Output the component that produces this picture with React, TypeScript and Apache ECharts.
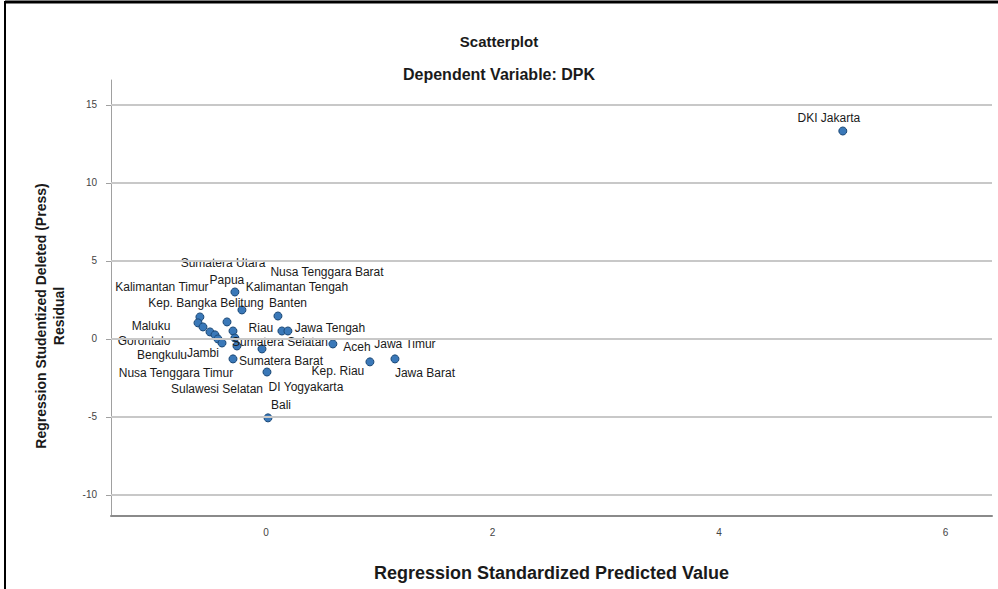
import React, { useEffect, useRef } from "react";
import * as echarts from "echarts";

const provinces = [
  "Kalimantan Timur", "Maluku", "Gorontalo", "Bengkulu", "Nusa Tenggara Timur",
  "Jambi", "Sulawesi Selatan", "Sumatera Utara", "Nusa Tenggara Barat", "Kep. Riau",
  "Kalimantan Tengah", "Kep. Bangka Belitung", "Papua", "Sumatera Selatan", "Sumatera Barat",
  "DI Yogyakarta", "Bali", "Banten", "Riau", "Jawa Tengah",
  "Aceh", "Jawa Timur", "Jawa Barat", "DKI Jakarta",
];
const predicted = [
  -0.583, -0.600, -0.556, -0.494, -0.450,
  -0.424, -0.388, -0.344, -0.291, -0.274,
  -0.256, -0.212, -0.274, -0.035, -0.291,
  0.009, 0.018, 0.106, 0.141, 0.194,
  0.591, 0.918, 1.139, 5.093,
];
const residual = [
  1.41, 1.03, 0.77, 0.45, 0.26,
  0.0, -0.26, 1.09, 0.51, 0.06,
  -0.45, 1.86, 3.01, -0.64, -1.28,
  -2.12, -5.06, 1.47, 0.51, 0.51,
  -0.32, -1.47, -1.28, 13.33,
];
// label centre offsets (px) relative to the point
const labelOffsets: [number, number][] = [
  [-38, -30], [-47, 3], [-59, 14], [-48, 23], [-39, 38],
  [-15, 14], [-5, 46], [-4, -59], [94, -59], [103, 33],
  [60, -59], [-36, -7], [-8, -12], [18, -7], [48, 2],
  [39, 15], [13, -13], [10, -13], [-21, -3], [42, -3],
  [24, 3], [35, -18], [30, 14], [-14, -13],
];
const xTicks = [0, 2, 4, 6];
const yTicks = [-10, -5, 0, 5, 10, 15];

const FONT = "'Liberation Sans', Arial, sans-serif";

export default function App() {
  const ref = useRef<HTMLDivElement>(null);
  useEffect(() => {
    if (!ref.current) return;
    const chart = echarts.init(ref.current, null, { renderer: "svg" });
    const data = provinces.map((name, i) => ({
      name,
      value: [predicted[i], residual[i]],
      label: { offset: labelOffsets[i] },
    }));
    chart.setOption({
      animation: false,
      backgroundColor: "#ffffff",
      textStyle: { fontFamily: FONT },
      title: [
        {
          text: "Scatterplot",
          left: "center",
          top: 29,
          textStyle: { fontFamily: FONT, fontSize: 15, fontWeight: "bold", color: "#1a1a1a" },
        },
        {
          text: "Dependent Variable: DPK",
          left: "center",
          top: 61,
          textStyle: { fontFamily: FONT, fontSize: 16, fontWeight: "bold", color: "#1a1a1a" },
        },
      ],
      grid: { left: 111, top: 80, right: 6, bottom: 73, containLabel: false },
      xAxis: {
        type: "value",
        min: -1.368,
        max: 6.41,
        name: "Regression Standardized Predicted Value",
        nameLocation: "middle",
        nameGap: 48,
        nameTextStyle: { fontFamily: FONT, fontSize: 18, fontWeight: "bold", color: "#1a1a1a" },
        axisLine: { show: true, onZero: false, lineStyle: { color: "#8a8a8a", width: 2 } },
        axisTick: { show: false, customValues: xTicks },
        axisLabel: { customValues: xTicks, margin: 11, fontSize: 10, color: "#444", fontFamily: FONT },
        splitLine: { show: false },
      },
      yAxis: {
        type: "value",
        min: -11.35,
        max: 16.6,
        axisLine: { show: true, onZero: false, lineStyle: { color: "#a0a0a0", width: 1 } },
        axisTick: { show: true, customValues: yTicks, length: 5, lineStyle: { color: "#a0a0a0" } },
        axisLabel: { customValues: yTicks, margin: 14, fontSize: 10, color: "#444", fontFamily: FONT },
        splitLine: { show: false },
      },
      graphic: [
        {
          type: "text",
          x: 50,
          y: 316,
          rotation: Math.PI / 2,
          style: {
            text: "Regression Studentized Deleted (Press)\nResidual",
            fontFamily: FONT,
            fontSize: 14,
            fontWeight: "bold",
            fill: "#1a1a1a",
            align: "center",
            verticalAlign: "middle",
            lineHeight: 18,
          },
        },
        { type: "line", shape: { x1: 5, y1: 2, x2: 998, y2: 2 }, style: { stroke: "#000", lineWidth: 3 } },
        { type: "line", shape: { x1: 5, y1: 1, x2: 5, y2: 589 }, style: { stroke: "#000", lineWidth: 2 } },
      ],
      series: [
        {
          type: "scatter",
          z: 1,
          silent: true,
          data: [],
          markLine: {
            silent: true,
            symbol: "none",
            label: { show: false },
            lineStyle: { color: "#c8c8c8", width: 2, type: "solid" },
            data: yTicks.map((v) => ({ yAxis: v })),
          },
        },
        {
          type: "scatter",
          z: 3,
          symbol: "circle",
          symbolSize: 8,
          itemStyle: { color: "#3a78b8", borderColor: "#1d4a78", borderWidth: 1, opacity: 1 },
          label: {
            show: true,
            position: "inside",
            formatter: "{b}",
            fontFamily: FONT,
            fontSize: 12,
            color: "#1a1a1a",
            align: "center",
            verticalAlign: "middle",
          },
          data,
        },
      ],
    });
    return () => chart.dispose();
  }, []);
  return (
    <div
      ref={ref}
      style={{ position: "fixed", left: 0, top: 0, width: 998, height: 589 }}
    />
  );
}
